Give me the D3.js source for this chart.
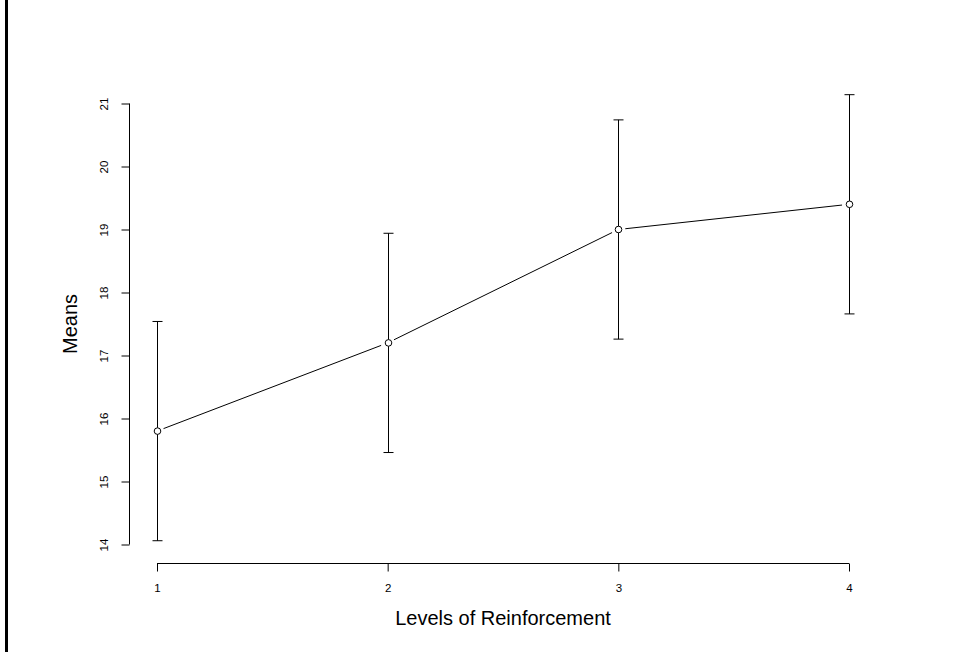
<!DOCTYPE html>
<html>
<head>
<meta charset="utf-8">
<script src="https://cdn.jsdelivr.net/npm/d3@7"></script>
<style>
  html, body { margin: 0; padding: 0; background: #fff; }
  body { width: 957px; height: 652px; overflow: hidden; }
  #frame { position: absolute; left: 5px; top: 0; width: 3px; height: 652px; background: #000; }
  text { font-family: "Liberation Sans", Arial, Helvetica, sans-serif; fill: #000; }
</style>
</head>
<body>
<div id="frame"></div>
<div id="chart"></div>
<script>
const levels  = [1, 2, 3, 4];
const means   = [15.8, 17.2, 19.0, 19.4];
const errors  = [1.74, 1.74, 1.74, 1.74];
const yTicks  = [14, 15, 16, 17, 18, 19, 20, 21];
const xLabel  = 'Levels of Reinforcement';
const yLabel  = 'Means';

const W = 957, H = 652;
const svg = d3.select('#chart').append('svg')
  .attr('width', W).attr('height', H)
  .style('display', 'block');

const x = d3.scaleLinear().domain([1, 4]).range([157, 849]);
const y = d3.scaleLinear().domain([14, 21]).range([544.5, 103.5]);

// ── Y axis ───────────────────────────────────────────────────────────────
const yAxis = svg.append('g').attr('transform', 'translate(129.5,0)');
yAxis.call(d3.axisLeft(y).tickValues(yTicks).tickSize(8).tickSizeOuter(0).tickFormat(d3.format('d')));
yAxis.attr('font-family', null).attr('font-size', null);
yAxis.select('.domain').attr('stroke', '#000').attr('d', `M0,${y(14)}V${y(21)}`);
yAxis.selectAll('.tick line').attr('stroke', '#000');
yAxis.selectAll('.tick text')
  .attr('x', null).attr('dy', null)
  .attr('text-anchor', 'middle')
  .style('font-size', '11.5px')
  .attr('transform', 'translate(-21.5,0) rotate(-90)');

// ── X axis ───────────────────────────────────────────────────────────────
const xAxis = svg.append('g').attr('transform', 'translate(0,563.5)');
xAxis.call(d3.axisBottom(x).tickValues(levels).tickSize(8).tickSizeOuter(0).tickFormat(d3.format('d')));
xAxis.attr('font-family', null).attr('font-size', null);
xAxis.select('.domain').attr('stroke', '#000').attr('d', `M${x(1)},0H${x(4)}`);
xAxis.selectAll('.tick line').attr('stroke', '#000');
xAxis.selectAll('.tick text').attr('y', 28.5).attr('dy', null).style('font-size', '11.5px');

// ── Axis titles ──────────────────────────────────────────────────────────
svg.append('text')
  .attr('x', (x(1) + x(4)) / 2).attr('y', 625)
  .attr('text-anchor', 'middle').style('font-size', '20px')
  .text(xLabel);

svg.append('text')
  .attr('transform', `translate(77,${(y(14) + y(21)) / 2}) rotate(-90)`)
  .attr('text-anchor', 'middle').style('font-size', '20px')
  .text(yLabel);

// ── Error bars ───────────────────────────────────────────────────────────
const capW = 5;
levels.forEach((lv, i) => {
  const cx = Math.round(x(lv)) + 0.5;
  const top = y(means[i] + errors[i]);
  const bot = y(means[i] - errors[i]);
  const g = svg.append('g').attr('stroke', '#000').attr('stroke-width', 1);
  g.append('line').attr('x1', cx).attr('x2', cx).attr('y1', top).attr('y2', bot);
  g.append('line').attr('x1', cx - capW).attr('x2', cx + capW).attr('y1', top).attr('y2', top);
  g.append('line').attr('x1', cx - capW).attr('x2', cx + capW).attr('y1', bot).attr('y2', bot);
});

// ── Line with gaps at points (type = "b") ────────────────────────────────
const gap = 7;
for (let i = 0; i < levels.length - 1; i++) {
  const x1 = x(levels[i]), y1 = y(means[i]);
  const x2 = x(levels[i + 1]), y2 = y(means[i + 1]);
  const len = Math.hypot(x2 - x1, y2 - y1);
  const ux = (x2 - x1) / len, uy = (y2 - y1) / len;
  svg.append('line')
    .attr('x1', x1 + ux * gap).attr('y1', y1 + uy * gap)
    .attr('x2', x2 - ux * gap).attr('y2', y2 - uy * gap)
    .attr('stroke', '#000').attr('stroke-width', 1);
}

svg.append('g').selectAll('circle')
  .data(levels)
  .join('circle')
  .attr('cx', d => Math.round(x(d)) + 0.5)
  .attr('cy', (d, i) => y(means[i]))
  .attr('r', 3.3)
  .attr('fill', '#fff')
  .attr('stroke', '#000')
  .attr('stroke-width', 1);
</script>
</body>
</html>
